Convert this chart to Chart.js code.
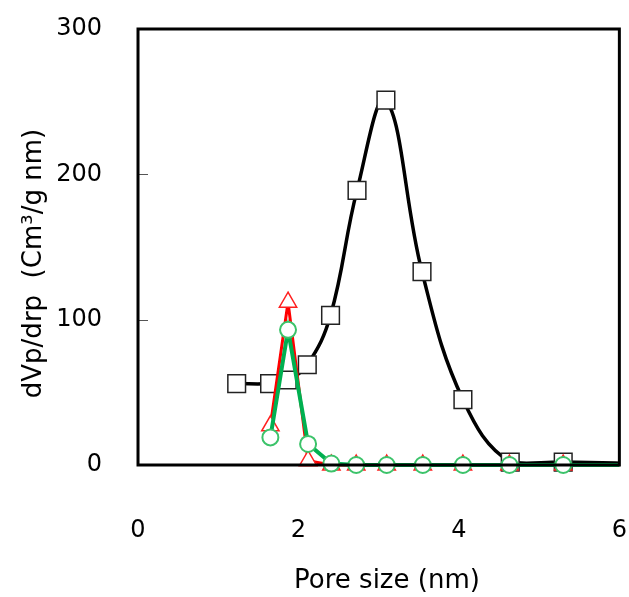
<!DOCTYPE html>
<html>
<head>
<meta charset="utf-8">
<script src="https://cdn.jsdelivr.net/npm/chart.js@4/dist/chart.umd.min.js"></script>
<style>
  html, body { margin: 0; padding: 0; background: #fff; overflow: hidden; }
  #wrap { width: 629px; height: 597px; position: relative; }
  canvas { display: block; }
</style>
</head>
<body>
<div id="wrap"><canvas id="poreChart"></canvas></div>
<script>
// pore size distribution

const squareX = [1.23, 1.64, 1.86, 2.11, 2.40, 2.73, 3.09, 3.54, 4.05, 4.64, 5.30, 6.6];
const squareY = [56, 56, 58.5, 69, 103, 189, 251, 133, 45, 2, 2, 0.5];

const otherX = [1.65, 1.87, 2.12, 2.41, 2.72, 3.10, 3.55, 4.05, 4.63, 5.30, 6.6];
const triangleY = [27, 112, 3, 0, 0, 0, 0, 0, 0, 0, 0];
const circleY = [19, 93, 14.5, 1, 0, 0, 0, 0, 0, 0, 0];

const xTicks = [0, 2, 4, 6];
const yTicks = [0, 100, 200, 300];

const toPoints = (xs, ys) => xs.map((x, i) => ({ x: x, y: ys[i] }));

const tickFont = { family: "'DejaVu Sans', sans-serif", size: 24 };
const titleFont = { family: "'DejaVu Sans', sans-serif", size: 26 };

// box around the plot + small inner ticks on the left side
const framePlugin = {
    id: 'frame',
    afterDraw(chart) {
        const a = chart.chartArea;
        const ctx = chart.ctx;
        const y = chart.scales.y;
        ctx.save();
        ctx.strokeStyle = '#555';
        ctx.lineWidth = 1;
        yTicks.slice(1, -1).forEach(v => {
            const py = Math.round(y.getPixelForValue(v)) + 0.5;
            ctx.beginPath();
            ctx.moveTo(a.left, py);
            ctx.lineTo(a.left + 10, py);
            ctx.stroke();
        });
        ctx.strokeStyle = '#000';
        ctx.lineWidth = 3;
        ctx.strokeRect(a.left, a.top, a.right - a.left, a.bottom - a.top);
        ctx.restore();
    }
};

const clipBox = { left: 15, top: 15, right: 0, bottom: 15 };

// invisible tick marks are used as spacers between axis and labels
const spacerGrid = len => ({
    display: true,
    drawOnChartArea: false,
    drawTicks: true,
    tickLength: len,
    tickColor: 'rgba(0,0,0,0)'
});

new Chart(document.getElementById('poreChart'), {
    type: 'line',
    data: {
        datasets: [
            {
                label: 'squares',
                data: toPoints(squareX, squareY),
                borderColor: '#000',
                borderWidth: 3.5,
                tension: 0.4,
                pointStyle: 'rect',
                pointRadius: 12.5,
                pointBorderWidth: 1.5,
                pointBorderColor: '#222',
                pointBackgroundColor: '#fff',
                clip: clipBox,
                order: 3
            },
            {
                label: 'triangles',
                data: toPoints(otherX, triangleY),
                borderColor: '#ff0000',
                borderWidth: 3,
                tension: 0,
                pointStyle: 'triangle',
                pointRadius: 10,
                pointBorderWidth: 1.5,
                pointBorderColor: '#ff2020',
                pointBackgroundColor: '#fff',
                clip: clipBox,
                order: 2
            },
            {
                label: 'circles',
                data: toPoints(otherX, circleY),
                borderColor: '#00b050',
                borderWidth: 4,
                tension: 0,
                pointStyle: 'circle',
                pointRadius: 8,
                pointBorderWidth: 2,
                pointBorderColor: '#3cc36a',
                pointBackgroundColor: '#fff',
                clip: clipBox,
                order: 1
            }
        ]
    },
    options: {
        responsive: true,
        maintainAspectRatio: false,
        animation: false,
        layout: { autoPadding: false, padding: { left: 8, right: 8, top: 29, bottom: 0 } },
        plugins: {
            legend: { display: false },
            tooltip: { enabled: false }
        },
        scales: {
            x: {
                type: 'linear',
                min: 0,
                max: 6,
                afterBuildTicks: s => { s.ticks = xTicks.map(v => ({ value: v })); },
                grid: spacerGrid(49),
                border: { display: false },
                ticks: { color: '#000', font: tickFont, padding: 2, maxRotation: 0 },
                title: {
                    display: true,
                    text: '  Pore size (nm)',
                    color: '#000',
                    font: titleFont,
                    padding: { top: 19, bottom: 0 }
                }
            },
            y: {
                min: 0,
                max: 300,
                afterBuildTicks: s => { s.ticks = yTicks.map(v => ({ value: v })); },
                grid: spacerGrid(34),
                border: { display: false },
                ticks: { color: '#000', font: tickFont, padding: 2 },
                title: {
                    display: true,
                    text: 'dVp/drp  (Cm³/g nm)    ',
                    color: '#000',
                    font: titleFont,
                    padding: { top: 11, bottom: 4 }
                }
            }
        }
    },
    plugins: [framePlugin]
});
</script>
</body>
</html>
